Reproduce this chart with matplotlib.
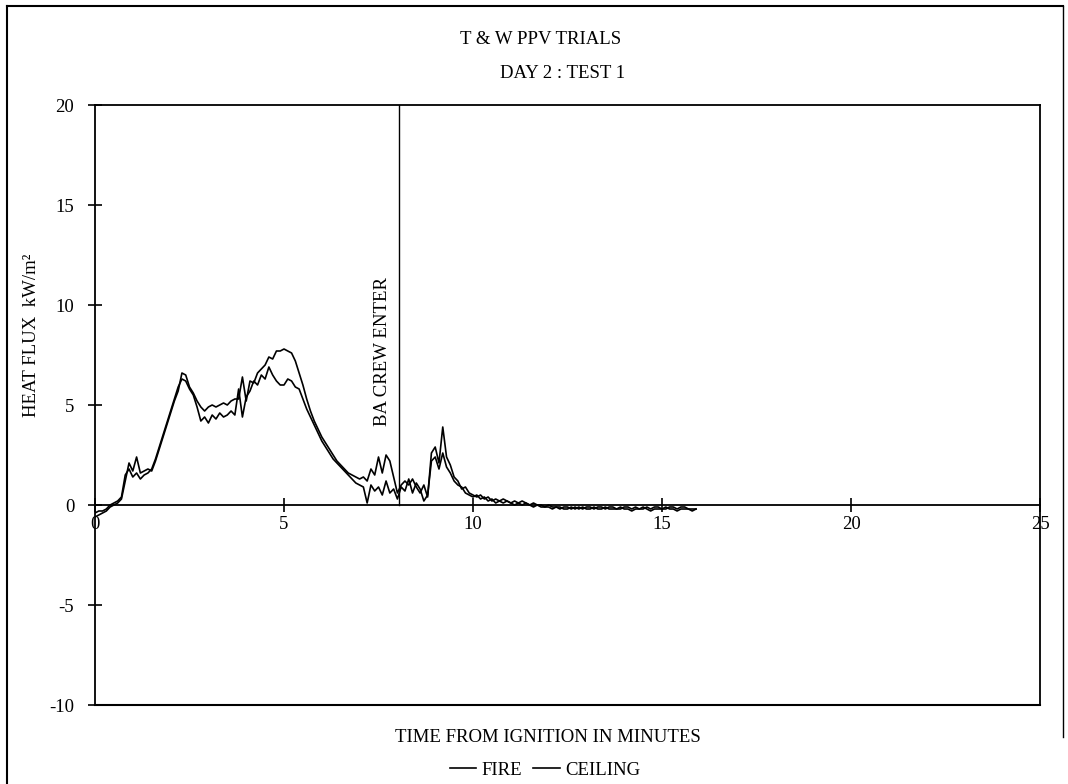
import numpy as np
import matplotlib
matplotlib.use("Agg")
import matplotlib.pyplot as plt
from matplotlib.lines import Line2D

plt.rcParams['font.family'] = ['Liberation Serif', 'DejaVu Serif']

# Time axis (minutes from ignition), sampled every 0.1 min
time_min = np.round(np.arange(0, 16.0, 0.1), 1)

# Heat flux at the fire (kW/m^2)
fire = [
    -0.6, -0.5, -0.4, -0.3, -0.1, 0.0, 0.1, 0.3, 1.2, 2.1,
    1.7, 2.4, 1.6, 1.7, 1.8, 1.7, 2.2, 2.8, 3.4, 4.0,
    4.6, 5.2, 5.7, 6.6, 6.5, 5.9, 5.6, 5.2, 4.9, 4.7,
    4.9, 5.0, 4.9, 5.0, 5.1, 5.0, 5.2, 5.3, 5.3, 6.4,
    5.2, 6.2, 6.1, 6.6, 6.8, 7.0, 7.4, 7.3, 7.7, 7.7,
    7.8, 7.7, 7.6, 7.2, 6.6, 6.0, 5.3, 4.7, 4.2, 3.8,
    3.4, 3.1, 2.8, 2.5, 2.2, 2.0, 1.8, 1.6, 1.5, 1.4,
    1.3, 1.4, 1.2, 1.8, 1.5, 2.4, 1.6, 2.5, 2.2, 1.4,
    0.6, 1.0, 1.2, 1.0, 1.3, 0.9, 0.6, 1.0, 0.4, 2.6,
    2.9, 2.1, 3.9, 2.4, 2.0, 1.4, 1.2, 0.8, 0.9, 0.6,
    0.5, 0.4, 0.5, 0.3, 0.4, 0.2, 0.3, 0.2, 0.3, 0.2,
    0.1, 0.2, 0.1, 0.2, 0.1, 0.0, 0.1, 0.0, 0.0, -0.1,
    0.0, -0.1, -0.1, -0.2, -0.1, -0.1, -0.2, -0.1, -0.2, -0.1,
    -0.2, -0.2, -0.1, -0.2, -0.2, -0.1, -0.2, -0.2, -0.2, -0.1,
    -0.2, -0.2, -0.3, -0.2, -0.2, -0.1, -0.2, -0.3, -0.2, -0.2,
    -0.2, -0.1, -0.2, -0.2, -0.3, -0.2, -0.2, -0.2, -0.3, -0.2,
]

# Heat flux at the ceiling (kW/m^2)
ceiling = [
    -0.4, -0.3, -0.3, -0.2, 0.0, 0.1, 0.2, 0.4, 1.5, 1.8,
    1.4, 1.6, 1.3, 1.5, 1.6, 1.8, 2.3, 2.9, 3.5, 4.1,
    4.7, 5.3, 5.9, 6.3, 6.2, 5.8, 5.5, 4.9, 4.2, 4.4,
    4.1, 4.5, 4.3, 4.6, 4.4, 4.5, 4.7, 4.5, 5.8, 4.4,
    5.4, 5.7, 6.2, 6.0, 6.5, 6.3, 6.9, 6.5, 6.2, 6.0,
    6.0, 6.3, 6.2, 5.9, 5.8, 5.3, 4.8, 4.4, 4.0, 3.6,
    3.2, 2.9, 2.6, 2.3, 2.1, 1.9, 1.7, 1.5, 1.3, 1.1,
    1.0, 0.9, 0.1, 1.0, 0.7, 0.9, 0.5, 1.2, 0.6, 0.8,
    0.3, 0.9, 0.7, 1.3, 0.6, 1.1, 0.8, 0.2, 0.5, 2.2,
    2.4, 1.8, 2.6, 1.9, 1.6, 1.2, 1.0, 0.9, 0.6, 0.5,
    0.4, 0.5, 0.3, 0.4, 0.2, 0.3, 0.1, 0.2, 0.1, 0.2,
    0.1, 0.0, 0.1, 0.0, 0.1, 0.0, -0.1, 0.0, -0.1, -0.1,
    -0.1, -0.2, -0.1, -0.1, -0.2, -0.2, -0.1, -0.2, -0.1, -0.2,
    -0.1, -0.1, -0.2, -0.1, -0.1, -0.2, -0.1, -0.1, -0.2, -0.2,
    -0.1, -0.1, -0.2, -0.1, -0.2, -0.2, -0.1, -0.2, -0.1, -0.1,
    -0.2, -0.2, -0.1, -0.1, -0.2, -0.1, -0.1, -0.2, -0.2, -0.2,
]

x_ticks = [0, 5, 10, 15, 20, 25]
y_ticks = [-10, -5, 0, 5, 10, 15, 20]
crew_enter_min = 8.05

FS = 13.5

fig = plt.figure(figsize=(10.68, 7.84), dpi=100)
ax = fig.add_axes([95 / 1068, 1 - 705 / 784, (1040 - 95) / 1068, (705 - 105) / 784])

ax.plot(time_min, fire, color='black', lw=1.2)
ax.plot(time_min, ceiling, color='black', lw=1.2)

# BA crew entry marker
ax.plot([crew_enter_min, crew_enter_min], [0, 20], color='black', lw=1.0)
ax.text(crew_enter_min - 0.45, 7.7, 'BA CREW ENTER', rotation=90,
        ha='center', va='center', fontsize=FS)

ax.set_xlim(0, 25)
ax.set_ylim(-10, 20)

# x axis drawn along the zero line, box closed with a plain line at -10
ax.spines['bottom'].set_position(('data', 0))
ax.axhline(-10, color='black', lw=1.5, clip_on=False)
for s in ['left', 'right', 'top', 'bottom']:
    ax.spines[s].set_linewidth(1.3)

ax.set_xticks(x_ticks)
ax.set_yticks(y_ticks)
ax.set_xticklabels([str(v) for v in x_ticks])
ax.set_yticklabels([str(v) for v in y_ticks])
ax.tick_params(axis='both', direction='inout', length=10, width=1.2,
               labelsize=FS)
ax.tick_params(axis='y', pad=10)
ax.tick_params(axis='x', pad=3)

fig.text(541 / 1068, 1 - 40 / 784, 'T & W PPV TRIALS', ha='center', va='center', fontsize=FS)
fig.text(563 / 1068, 1 - 73 / 784, 'DAY 2 : TEST 1', ha='center', va='center', fontsize=FS)
fig.text(32 / 1068, ax.transData.transform((0, 8.5))[1] / 784, 'HEAT FLUX  kW/m²',
         rotation=90, ha='center', va='center', fontsize=FS)
fig.text(548 / 1068, 1 - 738 / 784, 'TIME FROM IGNITION IN MINUTES',
         ha='center', va='center', fontsize=FS)

# Legend line: two line keys with labels
leg = ax.legend(handles=[Line2D([], [], color='black', lw=1.2),
                         Line2D([], [], color='black', lw=1.2)],
                labels=['FIRE', 'CEILING'], ncol=2, frameon=False,
                loc='center', bbox_to_anchor=(545 / 1068, 1 - 770 / 784),
                bbox_transform=fig.transFigure, fontsize=FS,
                handlelength=1.4, handletextpad=0.3, columnspacing=0.6,
                borderpad=0)

# Outer page frame
fig.add_artist(Line2D([0.007, 0.007], [0.0, 0.992], color='black', lw=1.5,
                      transform=fig.transFigure))
fig.add_artist(Line2D([0.007, 0.995], [0.992, 0.992], color='black', lw=1.5,
                      transform=fig.transFigure))
fig.add_artist(Line2D([0.995, 0.995], [0.06, 0.992], color='black', lw=1.0,
                      transform=fig.transFigure))

fig.savefig('out.png', dpi=100)
